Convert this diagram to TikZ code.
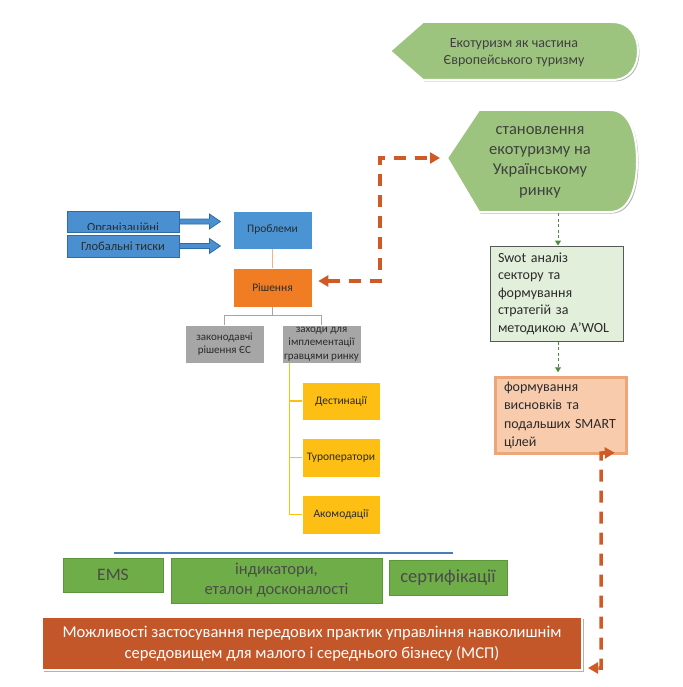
\documentclass[tikz,border=0pt]{standalone}
\usepackage{fontspec}
\setmainfont{Carlito}
\usetikzlibrary{arrows.meta,shadows,calc}
\definecolor{shgreen}{HTML}{9DC47E}
\definecolor{probblue}{HTML}{4A94D3}
\definecolor{orblue}{HTML}{4A90D0}
\definecolor{orbluedk}{HTML}{2E6CA6}
\definecolor{rishor}{HTML}{F07D24}
\definecolor{greybox}{HTML}{A6A6A6}
\definecolor{yelbox}{HTML}{FDBF13}
\definecolor{swotfill}{HTML}{E2EFDA}
\definecolor{swotline}{HTML}{595959}
\definecolor{resfill}{HTML}{F8CBAD}
\definecolor{resline}{HTML}{EDA67A}
\definecolor{rowgreen}{HTML}{6EAD48}
\definecolor{rowgreendk}{HTML}{5C963A}
\definecolor{mspfill}{HTML}{C4572A}
\definecolor{dashor}{HTML}{CF5A25}
\definecolor{dashgr}{HTML}{4E8A3A}
\definecolor{lineblue}{HTML}{4A7EBB}
\definecolor{lineor}{HTML}{F4B183}
\definecolor{txt}{HTML}{2B2B2B}
\begin{document}
\begin{tikzpicture}[x=1pt,y=-1pt,
  every node/.style={inner sep=0pt, text=txt},
  softshadow/.style={drop shadow={shadow xshift=1.5pt, shadow yshift=-1.5pt, opacity=0.3, fill=black}},
  smallbox/.style={rectangle, minimum width=79pt, minimum height=38pt, align=center, font=\fontsize{11}{13.5}\selectfont},
  yelstyle/.style={smallbox, fill=yelbox, draw=white, line width=0.6pt, minimum width=78pt},
  greystyle/.style={smallbox, fill=greybox, draw=white, line width=0.6pt},
  rowbox/.style={rectangle, fill=rowgreen, draw=rowgreendk, line width=0.5pt, align=center, text=txt!85},
  odash/.style={draw=dashor, line width=3.5pt, dash pattern=on 12pt off 9pt, {Triangle[length=10pt,width=11pt]}-{Triangle[length=10pt,width=11pt]}},
  gdash/.style={draw=dashgr, line width=1pt, dash pattern=on 3pt off 2.5pt, -{Triangle[length=5pt,width=6pt]}},
  barrow/.style={fill=orblue, draw=orbluedk, line width=0.8pt}
]
\useasboundingbox (0,0) rectangle (682,687);

% ---- green left-pointing shapes
\path[fill=shgreen, draw=white, line width=2pt, softshadow]
  (390,51) -- (423,22) -- (612,22) .. controls (630,22) and (638,36) .. (638,51)
  .. controls (638,66) and (630,80) .. (612,80) -- (423,80) -- cycle;
\node[align=center, font=\fontsize{14}{16.8}\selectfont, text=txt!90] (s1) at (514,53)
  {Екотуризм як частина\\Європейського туризму};

\path[fill=shgreen, draw=white, line width=2pt, softshadow]
  (447,158) -- (479,110) -- (610,110) .. controls (630,110) and (637,135) .. (637,161)
  .. controls (637,187) and (630,212) .. (610,212) -- (479,212) -- cycle;
\node[align=center, font=\fontsize{16.5}{20.3}\selectfont, text=txt!90] (s2) at (540,162)
  {становлення\\екотуризму на\\Українському\\ринку};
\coordinate (s2tip) at (447,158);
\coordinate (s2bot) at (558,213);

% ---- left side
\node[rectangle, fill=orblue, draw=orbluedk, line width=0.8pt, minimum width=112pt, minimum height=21pt] (org) at (123,221.5) {};
\begin{scope}
  \clip (68,212) rectangle (178,229.5);
  \node[font=\fontsize{12.5}{14}\selectfont] at (123,228) {Організаційні};
\end{scope}
\node[rectangle, fill=orblue, draw=orbluedk, line width=0.8pt, minimum width=112pt, minimum height=22pt, font=\fontsize{12.5}{14}\selectfont] (glob) at (123,246) {Глобальні тиски};

\filldraw[barrow] ($(org.east)+(0,-2.5)$) -- ++(30,0) -- ++(0,-5) -- ++(11,7.5) -- ++(-11,7.5) -- ++(0,-5) -- ++(-30,0) -- cycle;
\filldraw[barrow] ($(glob.east)+(0,-2.5)$) -- ++(30,0) -- ++(0,-5) -- ++(11,7.5) -- ++(-11,7.5) -- ++(0,-5) -- ++(-30,0) -- cycle;

\node[smallbox, fill=probblue, draw=white, line width=0.6pt, font=\fontsize{11.5}{14}\selectfont] (prob) at (272.5,230) {Проблеми};
\node[smallbox, fill=rishor, draw=white, line width=0.6pt, minimum height=39pt, font=\fontsize{11.5}{14}\selectfont] (rish) at (272.5,287.5) {Рішення};
\draw[lineor, line width=1.2pt] (prob.south) -- (rish.north);

\node[greystyle] (grey1) at (224.5,344) {законодавчі\\рішення ЄС};
\node[greystyle] (grey2) at (321.5,344) {заходи для\\імплементації\\гравцями ринку};
\draw[greybox, line width=1.2pt] (rish.south) -- ++(0,8) -| (grey1.north);
\draw[greybox, line width=1.2pt] (rish.south) -- ++(0,8) -| (grey2.north);

\node[yelstyle, font=\fontsize{11.5}{14}\selectfont] (dest) at (341,401) {Дестинації};
\node[yelstyle, minimum height=39pt, font=\fontsize{11.5}{14}\selectfont] (tour) at (341,457.5) {Туроператори};
\node[yelstyle, minimum height=39pt, font=\fontsize{11.5}{14}\selectfont] (akom) at (341,514.5) {Акомодації};
\coordinate (ys) at ($(grey2.south west)+(8,0)$);
\draw[yelbox, line width=1.2pt] (ys) |- (dest.west);
\draw[yelbox, line width=1.2pt] (ys) |- (tour.west);
\draw[yelbox, line width=1.2pt] (ys) |- (akom.west);

% ---- right column
\node[rectangle, fill=swotfill, draw=swotline, line width=1pt, minimum width=133pt, minimum height=95pt,
      text width=117pt, align=left, font=\fontsize{14}{17.5}\selectfont] (swot) at (556.5,293.5)
  {Swot аналіз\\сектору та\\формування\\стратегій за\\методикою A’WOL};
\node[rectangle, fill=resfill, draw=resline, line width=2.5pt, minimum width=131pt, minimum height=76pt,
      text width=114pt, align=left, font=\fontsize{14}{18.5}\selectfont, softshadow] (res) at (561,415.5)
  {формування\\висновків та\\подальших SMART\\цілей};
\draw[white, line width=1.5pt] ($(res.north west)+(-2,-2)$) rectangle ($(res.south east)+(2,2)$);

\draw[gdash] (s2bot) -- (s2bot |- swot.north);
\draw[gdash] (s2bot |- swot.south) -- ($(s2bot |- res.north)+(0,-4)$);

% ---- bottom
\draw[lineblue, line width=1.8pt] (114,553) coordinate (bl1) -- (453,553) coordinate (bl2);
\node[rowbox, minimum width=100pt, minimum height=34pt, font=\fontsize{17.5}{20}\selectfont] (ems) at (113,575) {EMS};
\node[rowbox, minimum width=211pt, minimum height=45pt, font=\fontsize{16.5}{20}\selectfont] (ind) at (276.5,580.5) {індикатори,\\еталон досконалості};
\node[rowbox, minimum width=118pt, minimum height=35pt, font=\fontsize{18.5}{20}\selectfont] (cert) at (448,577.5) {сертифікації};

\node[rectangle, fill=mspfill, draw=white, line width=2pt, minimum width=540pt, minimum height=53pt,
      align=center, font=\fontsize{16.5}{21}\selectfont, text=white, softshadow] (msp) at (312,643.5)
  {Можливості застосування передових практик управління навколишнім\\середовищем для малого і середнього бізнесу (МСП)};

% ---- orange dashed connectors
\draw[odash] ([xshift=6pt,yshift=6.5pt]rish.east) -- (380,281) -- (380,158) -- ([xshift=-7pt]s2tip);
\draw[odash] ([xshift=-13pt,yshift=2pt]res.south east) -- (601,453) -- (601,668) -- ([xshift=5pt,yshift=-24.5pt]msp.east);
\end{tikzpicture}
\end{document}
